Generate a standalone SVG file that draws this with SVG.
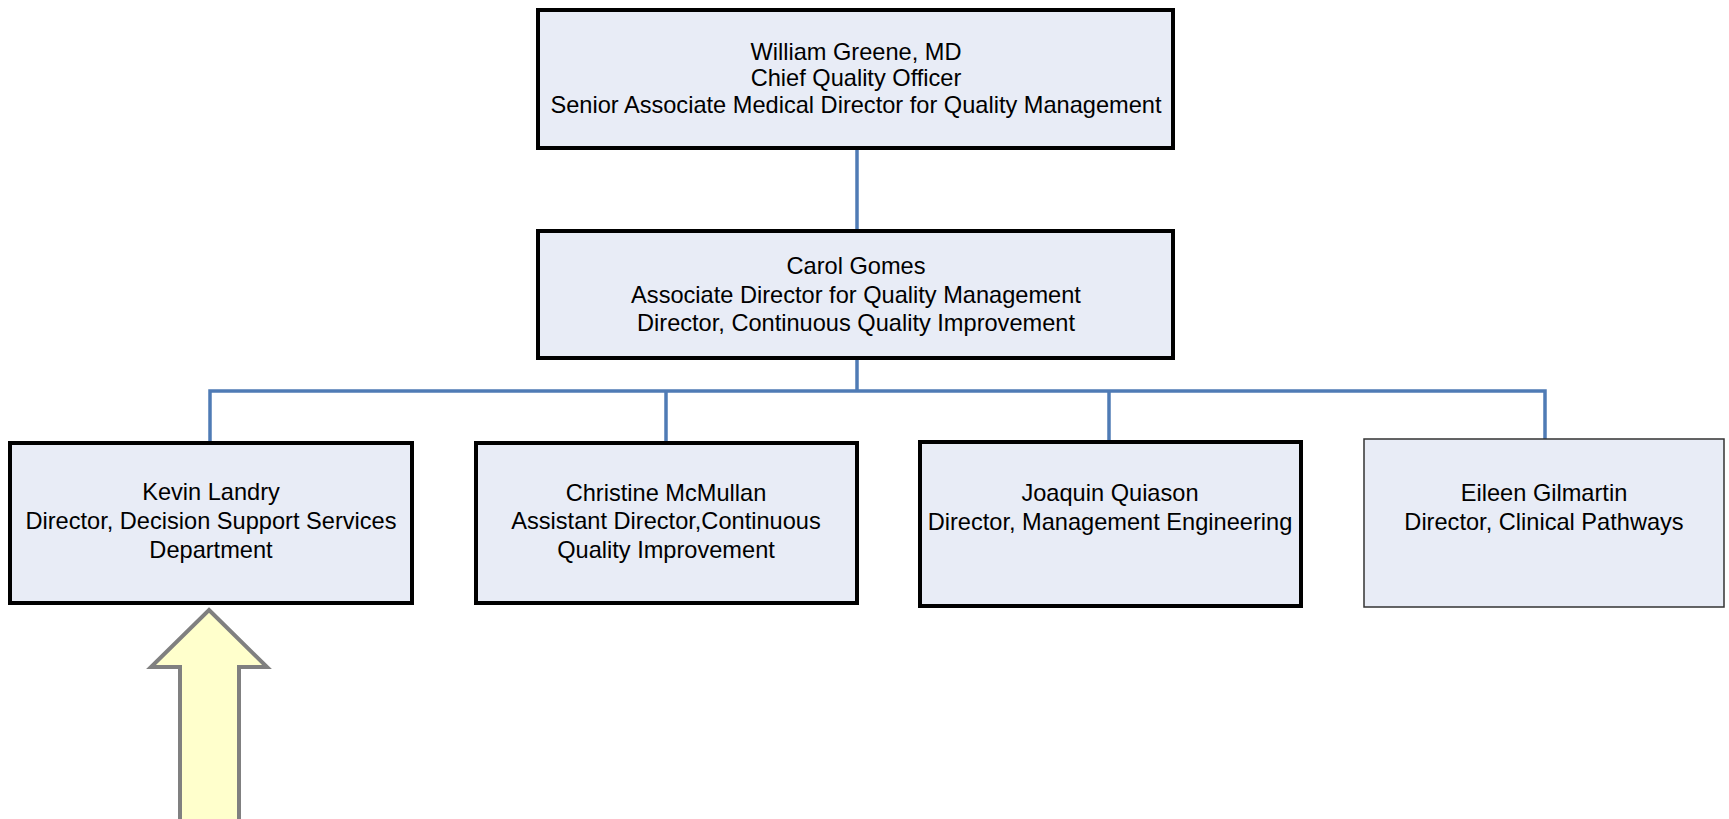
<svg xmlns="http://www.w3.org/2000/svg" width="1729" height="819" viewBox="0 0 1729 819">
<style>
.box{fill:#E8ECF6;stroke:#000;stroke-width:4}
.thin{fill:#E8ECF6;stroke:#333;stroke-width:1.5}
.t{font-family:"Liberation Sans",Arial,sans-serif;font-size:23.6px;fill:#000;text-anchor:middle}
.c{fill:none;stroke:#4F7BB5;stroke-width:3.5}
</style>
<rect width="1729" height="819" fill="#fff"/>
<g id="connectors">
<line class="c" x1="857" y1="148" x2="857" y2="230"/>
<line class="c" x1="857" y1="358" x2="857" y2="391"/>
<polyline class="c" points="210,442 210,391 1545,391 1545,439"/>
<line class="c" x1="666" y1="391" x2="666" y2="442"/>
<line class="c" x1="1109" y1="391" x2="1109" y2="441"/>
</g>
<g id="n-greene">
<rect class="box" x="538" y="10" width="635" height="138"/>
<text class="t" x="856" y="60">William Greene, MD</text>
<text class="t" x="856" y="86">Chief Quality Officer</text>
<text class="t" x="856" y="113">Senior Associate Medical Director for Quality Management</text>
</g>
<g id="n-gomes">
<rect class="box" x="538" y="231" width="635" height="127"/>
<text class="t" x="856" y="274">Carol Gomes</text>
<text class="t" x="856" y="303">Associate Director for Quality Management</text>
<text class="t" x="856" y="331">Director, Continuous Quality Improvement</text>
</g>
<g id="n-landry">
<rect class="box" x="10" y="443" width="402" height="160"/>
<text class="t" x="211" y="500">Kevin Landry</text>
<text class="t" x="211" y="529">Director, Decision Support Services</text>
<text class="t" x="211" y="558">Department</text>
</g>
<g id="n-mcmullan">
<rect class="box" x="476" y="443" width="381" height="160"/>
<text class="t" x="666" y="501">Christine McMullan</text>
<text class="t" x="666" y="529">Assistant Director,Continuous</text>
<text class="t" x="666" y="558">Quality Improvement</text>
</g>
<g id="n-quiason">
<rect class="box" x="920" y="442" width="381" height="164"/>
<text class="t" x="1110" y="501">Joaquin Quiason</text>
<text class="t" x="1110" y="530">Director, Management Engineering</text>
</g>
<g id="n-gilmartin">
<rect class="thin" x="1364" y="439" width="360" height="168"/>
<text class="t" x="1544" y="501">Eileen Gilmartin</text>
<text class="t" x="1544" y="530">Director, Clinical Pathways</text>
</g>
<g id="arrow">
<polygon points="209,610 267,667 239,667 239,822 180,822 180,667 151,667" fill="#FFFFCC" stroke="#808080" stroke-width="4" stroke-linejoin="miter"/>
</g>
</svg>
